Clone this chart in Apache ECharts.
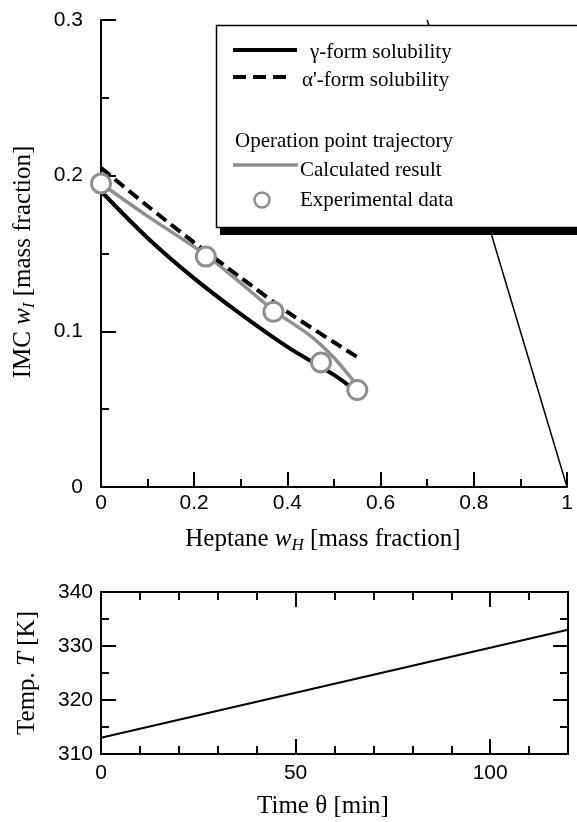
<!DOCTYPE html>
<html><head><meta charset="utf-8">
<script src="https://cdn.jsdelivr.net/npm/echarts@6/dist/echarts.min.js"></script>
<style>html,body{margin:0;padding:0;background:#fff}#c{width:577px;height:822px}</style>
</head><body><div id="c"></div>
<script>
// ---- data ----
const gammaX = [0, 0.1, 0.2, 0.3, 0.4, 0.5, 0.55];
const gammaY = [0.190, 0.160, 0.134, 0.111, 0.090, 0.072, 0.061];
const alphaX = [0, 0.1, 0.2, 0.3, 0.4, 0.5, 0.55];
const alphaY = [0.205, 0.1805, 0.157, 0.1345, 0.1125, 0.093, 0.0835];
const calcX = [0, 0.1, 0.225, 0.3, 0.37, 0.45, 0.5, 0.55];
const calcY = [0.195, 0.174, 0.149, 0.131, 0.1135, 0.097, 0.083, 0.065];
const expX = [0, 0.225, 0.37, 0.472, 0.55];
const expY = [0.195, 0.148, 0.1126, 0.080, 0.0623];
const boundaryX = [0.7, 1];
const boundaryY = [0.3, 0];
const timeX = [0, 120];
const tempY = [313, 333];
const heptaneTicks = [0, 0.2, 0.4, 0.6, 0.8, 1];
const imcTicks = [0, 0.1, 0.2, 0.3];
const timeTicks = [0, 50, 100];
const tempTicks = [310, 320, 330, 340];

const pairs = (xs, ys) => xs.map((x, i) => [x, ys[i]]);
const SANS = "'Liberation Sans', Arial, sans-serif";
const SERIF = "'Liberation Serif', 'Times New Roman', serif";
const GRAY = '#8f8f8f';

function axis(o) {
  const base = {
    type: 'value',
    axisLine: { show: true, onZero: false, lineStyle: { color: '#000', width: 2 } },
    axisTick: { show: true, inside: true, length: o.tickLen || 15, lineStyle: { color: '#000', width: 2 } },
    minorTick: o.minor ? { show: true, splitNumber: o.minor, length: 8, lineStyle: { color: '#000', width: 2 } } : { show: false },
    splitLine: { show: false },
    minorSplitLine: { show: false },
    axisLabel: o.labels ? {
      show: true, margin: o.margin, fontSize: 21, color: '#000', fontFamily: SANS,
      showMaxLabel: o.showMax !== false,
      formatter: v => (o.labels.some(t => Math.abs(t - v) < 1e-9) ? String(+v.toFixed(4)) : '')
    } : { show: false }
  };
  return Object.assign(base, o.extra);
}

const titleText = (x, y, text, rot) => ({
  type: 'text', x: x, y: y, rotation: rot || 0, z: 50,
  style: {
    text: text, fill: '#000', fontSize: 25, fontFamily: SERIF,
    align: 'center', verticalAlign: 'middle',
    rich: {
      i: { fontSize: 25, fontStyle: 'italic', fontFamily: SERIF },
      sub: { fontSize: 17, fontStyle: 'italic', fontFamily: SERIF, padding: [14, 0, 0, 0] }
    }
  }
});
const legText = (x, y, text) => ({
  type: 'text', x: x, y: y, z: 102,
  style: { text: text, fill: '#000', fontSize: 21, fontFamily: SERIF, align: 'left', verticalAlign: 'middle' }
});

const option = {
  animation: false,
  backgroundColor: '#fff',
  grid: [
    { left: 101, top: 20, width: 466, height: 467, outerBoundsMode: 'none' },
    { left: 101, top: 592, width: 467, height: 162, outerBoundsMode: 'none' }
  ],
  xAxis: [
    axis({ labels: heptaneTicks, margin: 6, minor: 2, extra: { gridIndex: 0, min: 0, max: 1, interval: 0.2, position: 'bottom' } }),
    axis({ labels: timeTicks, margin: 9, showMax: false, extra: { gridIndex: 1, min: 0, max: 120, interval: 50, position: 'bottom' } }),
    axis({ tickLen: 8, extra: { gridIndex: 1, min: 0, max: 120, interval: 10, position: 'bottom' } }),
    axis({ extra: { gridIndex: 1, min: 0, max: 120, interval: 50, position: 'top' } }),
    axis({ tickLen: 8, extra: { gridIndex: 1, min: 0, max: 120, interval: 10, position: 'top' } })
  ],
  yAxis: [
    axis({ labels: imcTicks, margin: 18, minor: 2, extra: { gridIndex: 0, min: 0, max: 0.3, interval: 0.1, position: 'left' } }),
    axis({ labels: tempTicks, margin: 8, minor: 2, extra: { gridIndex: 1, min: 310, max: 340, interval: 10, position: 'left' } }),
    axis({ minor: 2, extra: { gridIndex: 1, min: 310, max: 340, interval: 10, position: 'right' } })
  ],
  series: [
    { type: 'line', xAxisIndex: 0, yAxisIndex: 0, data: pairs(boundaryX, boundaryY), symbol: 'none',
      lineStyle: { color: '#000', width: 1.5 }, z: 1 },
    { type: 'line', xAxisIndex: 0, yAxisIndex: 0, data: pairs(calcX, calcY), symbol: 'none', smooth: 0.3,
      lineStyle: { color: GRAY, width: 3.5 }, z: 2 },
    { type: 'line', xAxisIndex: 0, yAxisIndex: 0, data: pairs(gammaX, gammaY), symbol: 'none', smooth: 0.3,
      lineStyle: { color: '#000', width: 4 }, z: 3 },
    { type: 'line', xAxisIndex: 0, yAxisIndex: 0, data: pairs(alphaX, alphaY), symbol: 'none', smooth: 0.3,
      lineStyle: { color: '#000', width: 4, type: [12, 6] }, z: 4 },
    { type: 'scatter', xAxisIndex: 0, yAxisIndex: 0, data: pairs(expX, expY), symbol: 'circle', symbolSize: 19,
      itemStyle: { color: '#fff', borderColor: GRAY, borderWidth: 3, opacity: 1 }, z: 5 },
    { type: 'line', xAxisIndex: 1, yAxisIndex: 1, data: pairs(timeX, tempY), symbol: 'none',
      lineStyle: { color: '#000', width: 2 }, z: 3 }
  ],
  graphic: [
    titleText(323, 539, 'Heptane {i|w}{sub|H} [mass fraction]'),
    titleText(23, 262, 'IMC {i|w}{sub|I} [mass fraction]', Math.PI / 2),
    titleText(27, 673, 'Temp. {i|T} [K]', Math.PI / 2),
    titleText(323, 806, 'Time θ [min]'),
    { type: 'rect', z: 100, shape: { x: 220, y: 31, width: 400, height: 204 }, style: { fill: '#000' } },
    { type: 'rect', z: 101, shape: { x: 216.5, y: 25.5, width: 400, height: 202 }, style: { fill: '#fff', stroke: '#000', lineWidth: 1.5 } },
    { type: 'line', z: 102, shape: { x1: 233, y1: 50, x2: 297, y2: 50 }, style: { stroke: '#000', lineWidth: 4 } },
    { type: 'line', z: 102, shape: { x1: 233, y1: 77, x2: 293, y2: 77 }, style: { stroke: '#000', lineWidth: 4, lineDash: [13, 7] } },
    { type: 'line', z: 102, shape: { x1: 233, y1: 165, x2: 298, y2: 165 }, style: { stroke: GRAY, lineWidth: 3.5 } },
    { type: 'circle', z: 102, shape: { cx: 262, cy: 200, r: 7.5 }, style: { fill: '#fff', stroke: GRAY, lineWidth: 2.5 } },
    legText(310, 52, 'γ-form solubility'),
    legText(302, 80, "α'-form solubility"),
    legText(235, 141, 'Operation point trajectory'),
    legText(300, 170, 'Calculated result'),
    legText(300, 200, 'Experimental data')
  ]
};
const chart = echarts.init(document.getElementById('c'), null, { renderer: 'canvas' });
chart.setOption(option);
</script>
</body></html>
